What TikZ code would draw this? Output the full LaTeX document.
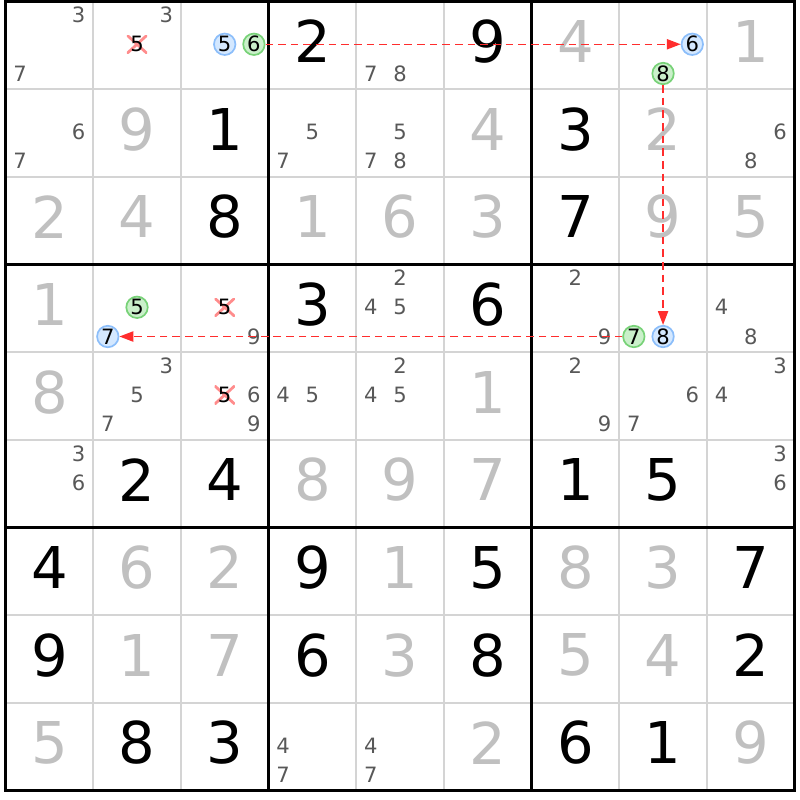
\documentclass[tikz,border=0pt]{standalone}
\usepackage{fontspec}
\setmainfont{DejaVu Sans}
\usepackage{xcolor}
\usepackage{tikz}
\usetikzlibrary{
  arrows.meta
}
\definecolor{gridgrey}{RGB}{212,212,212}
\definecolor{placedgrey}{RGB}{192,192,192}
\definecolor{candgrey}{RGB}{88,88,88}
\definecolor{onblue}{RGB}{212,232,255}
\definecolor{onblueline}{RGB}{140,190,250}
\definecolor{offgreen}{RGB}{202,240,202}
\definecolor{offgreenline}{RGB}{120,210,120}
\definecolor{linkred}{RGB}{255,45,45}
\definecolor{strikered}{RGB}{255,140,140}

\begin{document}
\begin{tikzpicture}[x=1cm,y=1cm,
  thinline/.style={draw=gridgrey,line width=0.55pt},
  boxline/.style={draw=black,line width=1pt,line cap=rect},
  given/.style={inner sep=0pt,font=\fontsize{18.7}{20}\selectfont,text=black},
  placed/.style={given,text=placedgrey},
  cand/.style={inner sep=0pt,font=\fontsize{6.85}{8}\selectfont,text=candgrey},
  struck/.style={cand,text=black,minimum width=0.23cm,minimum height=0.21cm,
    path picture={\draw[strikered,line width=0.9pt]
      (path picture bounding box.north west) -- (path picture bounding box.south east)
      (path picture bounding box.south west) -- (path picture bounding box.north east);}},
  linkon/.style={cand,text=black,circle,minimum size=0.245cm,line width=0.55pt,draw=onblueline,fill=onblue},
  linkoff/.style={linkon,draw=offgreenline,fill=offgreen},
  link/.style={draw=linkred,line width=0.5pt,dash pattern=on 2.5pt off 1.6pt,
    -{Triangle[length=4.5pt,width=3.3pt]}}]
  \useasboundingbox (-0.063,0.017) rectangle (9.057,-9.108);
  % grid
  \foreach \i in {1,2,4,5,7,8} {
    \draw[thinline] (\i,0) -- (\i,-9);
    \draw[thinline] (0,-\i) -- (9,-\i);
  }
  \foreach \i in {0,3,6,9} {
    \draw[boxline] (\i,0) -- (\i,-9);
    \draw[boxline] (0,-\i) -- (9,-\i);
  }
  % givens
  \foreach \row/\col/\dig in {1/4/2,1/6/9,2/3/1,2/7/3,3/3/8,3/7/7,4/4/3,4/6/6,
      6/2/2,6/3/4,6/7/1,6/8/5,7/1/4,7/4/9,7/6/5,7/9/7,8/1/9,8/4/6,8/6/8,8/9/2,
      9/2/8,9/3/3,9/7/6,9/8/1}
    \node[given] (n\row\col) at (\col-0.5,0.545-\row) {\dig};
  % placed
  \foreach \row/\col/\dig in {1/7/4,1/9/1,2/2/9,2/6/4,2/8/2,3/1/2,3/2/4,3/4/1,
      3/5/6,3/6/3,3/8/9,3/9/5,4/1/1,5/1/8,5/6/1,6/4/8,6/5/9,6/6/7,7/2/6,7/3/2,
      7/5/1,7/7/8,7/8/3,8/2/1,8/3/7,8/5/3,8/7/5,8/8/4,9/1/5,9/6/2,9/9/9}
    \node[placed] (n\row\col) at (\col-0.5,0.545-\row) {\dig};
  % candidates
  \foreach \row/\col/\dig/\kind in {1/1/3/cand,1/1/7/cand,1/2/3/cand,1/2/5/struck,
      1/3/5/linkon,1/3/6/linkoff,1/5/7/cand,1/5/8/cand,1/8/6/linkon,1/8/8/linkoff,
      2/1/6/cand,2/1/7/cand,2/4/5/cand,2/4/7/cand,2/5/5/cand,2/5/7/cand,2/5/8/cand,
      2/9/6/cand,2/9/8/cand,4/2/5/linkoff,4/2/7/linkon,4/3/5/struck,4/3/9/cand,
      4/5/2/cand,4/5/4/cand,4/5/5/cand,4/7/2/cand,4/7/9/cand,4/8/7/linkoff,
      4/8/8/linkon,4/9/4/cand,4/9/8/cand,5/2/3/cand,5/2/5/cand,5/2/7/cand,
      5/3/5/struck,5/3/6/cand,5/3/9/cand,5/4/4/cand,5/4/5/cand,5/5/2/cand,
      5/5/4/cand,5/5/5/cand,5/7/2/cand,5/7/9/cand,5/8/6/cand,5/8/7/cand,
      5/9/3/cand,5/9/4/cand,6/1/3/cand,6/1/6/cand,6/9/3/cand,6/9/6/cand,
      9/4/4/cand,9/4/7/cand,9/5/4/cand,9/5/7/cand} {
    \pgfmathsetmacro\px{\col-1+(mod(\dig-1,3)+0.5)/3}
    \pgfmathsetmacro\py{1-\row-(floor((\dig-1)/3)+0.5)/3+0.012}
    \node[\kind] (r\row c\col d\dig) at (\px,\py) {\dig};
  }
  % chain
  \draw[link] (r1c3d6) -- (r1c8d6);
  \draw[link] (r1c8d8) -- (r4c8d8);
  \draw[link] (r4c8d7) -- (r4c2d7);
\end{tikzpicture}
\end{document}
